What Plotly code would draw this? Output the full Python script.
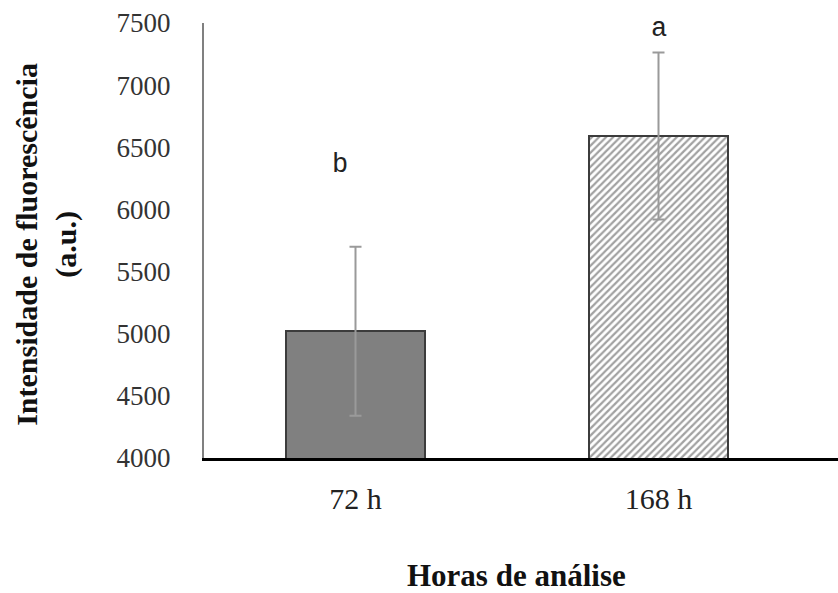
import plotly.graph_objects as go

# Fluorescence intensity by analysis time
categories = ["72 h", "168 h"]
means = [5020, 6590]
errors = [680, 672]
letters = ["b", "a"]
letter_y = [6360, 7450]
letter_dx = [-0.05, 0.0]
y_ticks = [4000, 4500, 5000, 5500, 6000, 6500, 7000, 7500]

serif = "Liberation Serif, Times New Roman, serif"

fig = go.Figure()

fig.add_trace(go.Bar(
    x=[0, 1],
    y=means,
    width=0.46,
    marker=dict(
        color=["#808080", "#ffffff"],
        line=dict(color="#3c3c3c", width=2),
        pattern=dict(shape=["", "/"], fgcolor="#3a3a3a", bgcolor="#ffffff",
                     size=5, solidity=0.45),
    ),
    error_y=dict(type="data", array=errors, visible=True,
                 color="#9a9a9a", thickness=2, width=6),
    showlegend=False,
))

for i, (lab, ly) in enumerate(zip(letters, letter_y)):
    fig.add_annotation(x=i + letter_dx[i], y=ly, text=lab, showarrow=False,
                       font=dict(family="Liberation Mono, Courier New, monospace",
                                 size=27, color="#222222"),
                       xanchor="center", yanchor="middle")

# axis titles
fig.add_annotation(xref="paper", yref="paper", x=(47 - 204) / 634, y=0.49,
                   text="<b>Intensidade de fluorescência</b><br><b>(a.u.)</b>",
                   textangle=-90, showarrow=False, xanchor="center", yanchor="middle",
                   font=dict(family=serif, size=30, color="#111111"))
fig.add_annotation(xref="paper", yref="paper", x=(516 - 204) / 634, y=(458 - 575) / 435,
                   text="<b>Horas de análise</b>", showarrow=False,
                   xanchor="center", yanchor="middle",
                   font=dict(family=serif, size=31, color="#111111"))

fig.update_xaxes(
    range=[-0.5, 1.5 + 28 / 303],
    tickvals=[0, 1],
    ticktext=categories,
    showline=True, linecolor="#000000", linewidth=3,
    ticks="", showgrid=False, zeroline=False,
    tickfont=dict(family=serif, size=30, color="#222222"),
    ticklabelstandoff=12,
)
fig.update_yaxes(
    range=[4000, 7500],
    tickvals=y_ticks,
    showline=True, linecolor="#808080", linewidth=2,
    ticks="", showgrid=False, zeroline=False,
    tickfont=dict(family=serif, size=27, color="#333333"),
    ticklabelstandoff=26,
)

fig.update_layout(
    width=838, height=593,
    margin=dict(l=204, r=0, t=23, b=135),
    plot_bgcolor="#ffffff", paper_bgcolor="#ffffff",
    bargap=0,
)

fig.write_html("out.html")
